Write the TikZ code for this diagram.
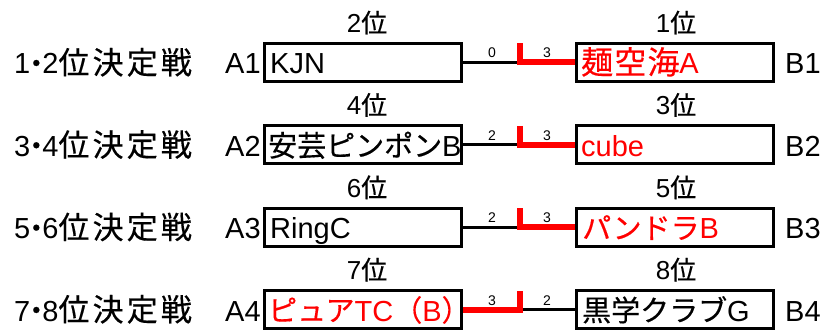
\documentclass[tikz,border=0pt]{standalone}
\usepackage{fontspec}
\setmainfont{Liberation Sans}
\newfontfamily\jp[FakeBold=0.4]{Noto Sans CJK JP}
\newfontfamily\jpp[FakeBold=0.4,RawFeature=+palt]{Noto Sans CJK JP}
\newfontfamily\jpls[Scale=1.07,LetterSpace=10,FakeBold=0.4]{Noto Sans CJK JP}
\newfontfamily\jpw[Scale=1.1,LetterSpace=4,FakeBold=0.4]{Noto Sans CJK JP}
\newcommand\J[1]{{\jp #1}}
\newcommand\JL[1]{{\jpls #1}}
\newcommand\JW[1]{{\jpw #1}}
\newcommand\dt{\makebox[12pt]{\jpp ・}}
\tikzset{
  box/.style={draw, line width=3pt, minimum width=197pt, minimum height=38pt, inner sep=0pt},
  wl/.style={line width=2.8pt},
  rl/.style={line width=6pt, red, line join=miter},
  big/.style={font=\fontsize{29}{30}\selectfont, inner sep=0pt, anchor=base west},
  rank/.style={font=\fontsize{26}{27}\selectfont, inner sep=0pt, anchor=base},
  score/.style={font=\fontsize{14}{15}\selectfont, inner sep=0pt, anchor=base},
}
\begin{document}
\begin{tikzpicture}[x=1pt,y=-1pt]
\useasboundingbox (0,0) rectangle (829,331);
% ---------- row 1 ----------
\def\c{62.5}
\node[box] (L1) at (363.25,\c) {};
\node[box] (R1) at (675,\c) {};
\node[big] (T1) at (14,\c+11.5) {1\dt 2\JL{位決定戦}};
\node[big] (A1) at (225,\c+11.5) {A1};
\node[big] (B1) at (785,\c+11.5) {B1};
\node[big] (N1a) at (270,\c+11.5) {KJN};
\node[big, red] (N1b) at (581,\c+11.5) {\JW{麺空海}A};
\node[rank] (P1a) at (367,\c-30) {2\J{位}};
\node[rank] (P1b) at (676,\c-30) {1\J{位}};
\node[score] (S1a) at (492,\c-4.5) {0};
\node[score] (S1b) at (547,\c-4.5) {3};
\coordinate (J1) at (520,\c);
\coordinate (J1t) at (520,\c-19);
\draw[wl] (L1.east) -- (J1);
\draw[rl] (J1t) -- (J1) -- (R1.west);
% ---------- row 2 ----------
\def\c{144.8}
\node[box] (L2) at (363.25,\c) {};
\node[box] (R2) at (675,\c) {};
\node[big] (T2) at (14,\c+11.5) {3\dt 4\JL{位決定戦}};
\node[big] (A2) at (225,\c+11.5) {A2};
\node[big] (B2) at (785,\c+11.5) {B2};
\node[big] (N2a) at (268,\c+11.5) {\J{安芸ピンポン}B};
\node[big, red] (N2b) at (581,\c+11.5) {cube};
\node[rank] (P2a) at (367,\c-30) {4\J{位}};
\node[rank] (P2b) at (676,\c-30) {3\J{位}};
\node[score] (S2a) at (492,\c-4.5) {2};
\node[score] (S2b) at (547,\c-4.5) {3};
\coordinate (J2) at (520,\c);
\coordinate (J2t) at (520,\c-19);
\draw[wl] (L2.east) -- (J2);
\draw[rl] (J2t) -- (J2) -- (R2.west);
% ---------- row 3 ----------
\def\c{227.2}
\node[box] (L3) at (363.25,\c) {};
\node[box] (R3) at (675,\c) {};
\node[big] (T3) at (14,\c+11.5) {5\dt 6\JL{位決定戦}};
\node[big] (A3) at (225,\c+11.5) {A3};
\node[big] (B3) at (785,\c+11.5) {B3};
\node[big] (N3a) at (270,\c+11.5) {RingC};
\node[big, red] (N3b) at (582,\c+11.5) {\J{パンドラ}B};
\node[rank] (P3a) at (367,\c-30) {6\J{位}};
\node[rank] (P3b) at (676,\c-30) {5\J{位}};
\node[score] (S3a) at (492,\c-4.5) {2};
\node[score] (S3b) at (547,\c-4.5) {3};
\coordinate (J3) at (520,\c);
\coordinate (J3t) at (520,\c-19);
\draw[wl] (L3.east) -- (J3);
\draw[rl] (J3t) -- (J3) -- (R3.west);
% ---------- row 4 ----------
\def\c{309.5}
\node[box] (L4) at (363.25,\c) {};
\node[box] (R4) at (675,\c) {};
\node[big] (T4) at (14,\c+11.5) {7\dt 8\JL{位決定戦}};
\node[big] (A4) at (225,\c+11.5) {A4};
\node[big] (B4) at (785,\c+11.5) {B4};
\node[big, red] (N4a) at (268,\c+11.5) {\J{ピュア}TC\J{（}B\J{）}};
\node[big] (N4b) at (582,\c+11.5) {\J{黒学クラブ}G};
\node[rank] (P4a) at (367,\c-30) {7\J{位}};
\node[rank] (P4b) at (676,\c-30) {8\J{位}};
\node[score] (S4a) at (492,\c-4.5) {3};
\node[score] (S4b) at (547,\c-4.5) {2};
\coordinate (J4) at (520,\c);
\coordinate (J4t) at (520,\c-19);
\draw[wl] (J4) -- (R4.west);
\draw[rl] (L4.east) -- (J4) -- (J4t);
\end{tikzpicture}
\end{document}
